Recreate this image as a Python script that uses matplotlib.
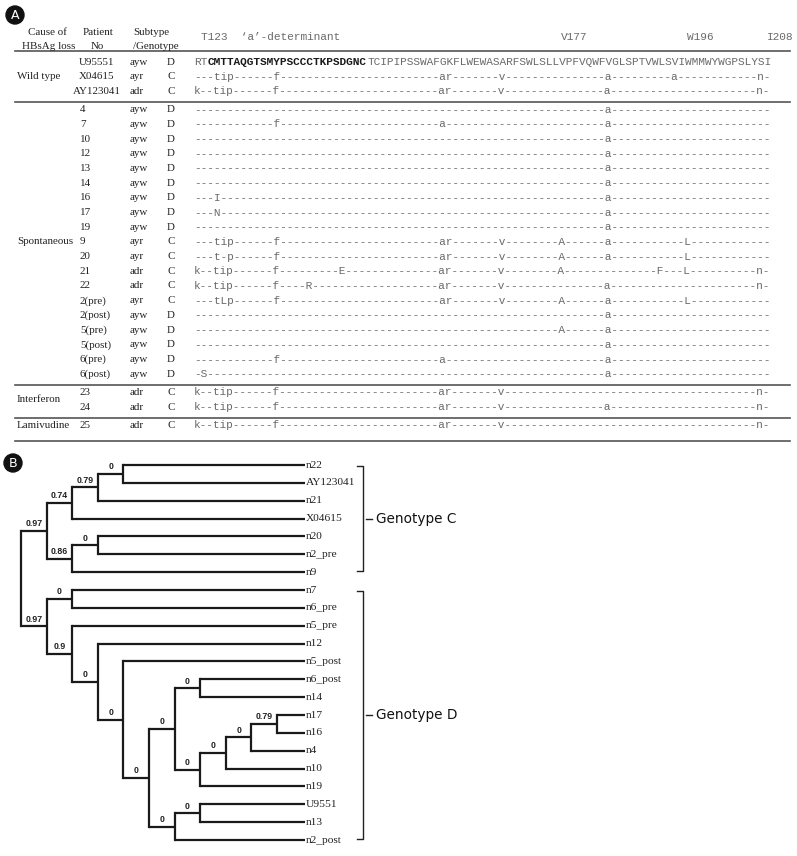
import matplotlib
matplotlib.use("Agg")
import matplotlib.pyplot as plt
from matplotlib.patches import Circle

# ---------------- data: panel A (alignment table) ----------------
ref_start = 122
ref_seq = "RTCMTTAQGTSMYPSCCCTKPSDGNCTCIPIPSSWAFGKFLWEWASARFSWLSLLVPFVQWFVGLSPTVWLSVIWMMWYWGPSLYSI"
bold_span = (124, 147)          # 'a'-determinant residues drawn in bold
landmarks = [(123, "T123  \u2018a\u2019-determinant"), (177, "V177"), (196, "W196"), (208, "I208")]

causes = ["Wild type", "Spontaneous", "Interferon", "Lamivudine"]
row_cause = [0, 0, 0] + [1] * 19 + [2, 2] + [3]
patients = ["U95551", "X04615", "AY123041",
            "4", "7", "10", "12", "13", "14", "16", "17", "19", "9", "20", "21", "22",
            "2(pre)", "2(post)", "5(pre)", "5(post)", "6(pre)", "6(post)",
            "23", "24", "25"]
subtypes = ["ayw", "ayr", "adr",
            "ayw", "ayw", "ayw", "ayw", "ayw", "ayw", "ayw", "ayw", "ayw",
            "ayr", "ayr", "adr", "adr", "ayr", "ayw", "ayw", "ayw", "ayw", "ayw",
            "adr", "adr", "adr"]
genotypes = ["D", "C", "C",
             "D", "D", "D", "D", "D", "D", "D", "D", "D",
             "C", "C", "C", "C", "C", "D", "D", "D", "D", "D",
             "C", "C", "C"]
# substitutions relative to U95551 (residue number + letter); None = reference row
mutations = [
    None,
    "125t 126i 127p 134f 159a 160r 168v 184a 194a 207n",
    "122k 125t 126i 127p 134f 159a 160r 168v 184a 207n",
    "184a",
    "134f 159a 184a",
    "184a",
    "184a",
    "184a",
    "184a",
    "125I 184a",
    "125N 184a",
    "184a",
    "125t 126i 127p 134f 159a 160r 168v 177A 184a 196L",
    "125t 127p 134f 159a 160r 168v 177A 184a 196L",
    "122k 125t 126i 127p 134f 144E 159a 160r 168v 177A 192F 196L 207n",
    "122k 125t 126i 127p 134f 139R 159a 160r 168v 184a 207n",
    "125t 126L 127p 134f 159a 160r 168v 177A 184a 196L",
    "184a",
    "177A 184a",
    "184a",
    "134f 159a 184a",
    "123S 184a",
    "122k 125t 126i 127p 134f 159a 160r 168v 207n",
    "122k 125t 126i 127p 134f 159a 160r 168v 184a 207n",
    "122k 125t 126i 127p 134f 159a 160r 168v 207n",
]

# ---------------- data: panel B (tree) ----------------
clade_C = ("0.97", [
    ("0.74", [
        ("0.79", [("0", ["n22", "AY123041"]), "n21"]),
        "X04615"]),
    ("0.86", [("0", ["n20", "n2_pre"]), "n9"]),
])
clade_D = ("0.97", [
    ("0", ["n7", "n6_pre"]),
    ("0.9", [
        "n5_pre",
        ("0", [
            "n12",
            ("0", [
                "n5_post",
                ("0", [
                    ("0", [
                        ("0", ["n6_post", "n14"]),
                        ("0", [
                            ("0", [
                                ("0", [("0.79", ["n17", "n16"]), "n4"]),
                                "n10"]),
                            "n19"]),
                    ]),
                    ("0", [("0", ["U9551", "n13"]), "n2_post"]),
                ]),
            ]),
        ]),
    ]),
])
tree = (None, [clade_C, clade_D])
genotype_groups = [("Genotype C", "n22", "n9"), ("Genotype D", "n7", "n2_post")]

# ---------------- figure ----------------
W, H = 797, 856
fig = plt.figure(figsize=(W / 100, H / 100), dpi=100)
ax = fig.add_axes([0, 0, 1, 1])
ax.set_xlim(0, W)
ax.set_ylim(H, 0)
ax.axis("off")

SERIF = "Liberation Serif"
MONO = "Liberation Mono"
txt_col = "#222222"
seq_col = "#6a6a6a"
line_col = "#555555"

def circ_label(x, y, s):
    ax.add_patch(Circle((x, y), 9, color="#111111", zorder=3))
    ax.text(x, y + 0.5, s, color="white", ha="center", va="center",
            fontsize=9, family="DejaVu Sans", zorder=4)

# ---- Panel A ----
circ_label(15, 15, "A")
fs_tab = 7.9
mono_fs = 8.0
cw = 0.6 * mono_fs * 100 / 72
x_seq = 194

def xres(res):
    return x_seq + (res - ref_start) * cw

ax.text(47, 32, "Cause of", family=SERIF, fontsize=fs_tab, ha="center", va="center", color=txt_col)
ax.text(49, 46, "HBsAg loss", family=SERIF, fontsize=fs_tab, ha="center", va="center", color=txt_col)
ax.text(98, 32, "Patient", family=SERIF, fontsize=fs_tab, ha="center", va="center", color=txt_col)
ax.text(97, 46, "No", family=SERIF, fontsize=fs_tab, ha="center", va="center", color=txt_col)
ax.text(133, 32, "Subtype", family=SERIF, fontsize=fs_tab, ha="left", va="center", color=txt_col)
ax.text(133, 46, "/Genotype", family=SERIF, fontsize=fs_tab, ha="left", va="center", color=txt_col)
for res, lab in landmarks:
    ax.text(xres(res), 37, lab, family=MONO, fontsize=mono_fs, ha="left", va="center", color=seq_col)

pitch = 14.7
group_gap = 3.5
row_y = [62 + pitch * i + group_gap * g for i, g in enumerate(row_cause)]

L_x0, L_x1 = 15, 790
ax.plot([L_x0, L_x1], [51, 51], color=line_col, lw=1.2)

for i, (pat, st, gt, mut) in enumerate(zip(patients, subtypes, genotypes, mutations)):
    y = row_y[i]
    if row_cause[i] == 0:
        ax.text(97, y, pat, family=SERIF, fontsize=fs_tab, ha="center", va="center", color=txt_col)
    else:
        ax.text(80, y, pat, family=SERIF, fontsize=fs_tab, ha="left", va="center", color=txt_col)
    ax.text(130, y, st, family=SERIF, fontsize=fs_tab, ha="left", va="center", color=txt_col)
    ax.text(171, y, gt, family=SERIF, fontsize=fs_tab, ha="center", va="center", color=txt_col)
    if mut is None:
        b0, b1 = bold_span
        pieces = [(ref_start, ref_seq[:b0 - ref_start], "normal", seq_col),
                  (b0, ref_seq[b0 - ref_start:b1 - ref_start + 1], "bold", "#1a1a1a"),
                  (b1 + 1, ref_seq[b1 - ref_start + 1:], "normal", seq_col)]
        for res, s, wgt, col in pieces:
            ax.text(xres(res), y, s, family=MONO, fontsize=mono_fs, fontweight=wgt,
                    ha="left", va="center", color=col)
    else:
        chars = ["-"] * len(ref_seq)
        for tok in mut.split():
            chars[int(tok[:-1]) - ref_start] = tok[-1]
        ax.text(xres(ref_start), y, "".join(chars), family=MONO, fontsize=mono_fs,
                ha="left", va="center", color=seq_col)

for g, name in enumerate(causes):
    ys = [row_y[i] for i in range(len(row_cause)) if row_cause[i] == g]
    ax.text(17, sum(ys) / len(ys), name, family=SERIF, fontsize=fs_tab, ha="left", va="center", color=txt_col)
    last = ys[-1]
    nxt = [row_y[i] for i in range(len(row_cause)) if row_cause[i] == g + 1]
    ly = (last + nxt[0]) / 2 + 1.5 if nxt else last + 15.5
    ax.plot([L_x0, L_x1], [ly, ly], color=line_col, lw=1.2)

# ---- Panel B ----
circ_label(13, 463, "B")
leaf_y0, leaf_dy = 465, 17.86
x_root, dx, x_tip = 21, 25.6, 305
tree_col = "#1a1a1a"
tlw = 1.6
leaf_pos = {}
counter = [0]

def place(node, depth):
    """returns (x, y) of node and draws subtree"""
    if isinstance(node, str):
        y = leaf_y0 + counter[0] * leaf_dy
        counter[0] += 1
        leaf_pos[node] = y
        ax.text(x_tip + 1, y, node, family=SERIF, fontsize=8.2, ha="left", va="center", color=txt_col)
        return x_tip, y
    support, children = node
    x = x_root + depth * dx
    ys = []
    for ch in children:
        cx, cy = place(ch, depth + 1)
        ys.append(cy)
        ax.plot([x, cx], [cy, cy], color=tree_col, lw=tlw, solid_capstyle="butt")
        if not isinstance(ch, str) and ch[0] is not None:
            ax.text((x + cx) / 2, cy - 2.5, ch[0], family="Liberation Sans", fontweight="bold",
                    fontsize=6.3, ha="center", va="bottom", color="#222222")
    ax.plot([x, x], [min(ys), max(ys)], color=tree_col, lw=tlw, solid_capstyle="projecting")
    return x, (min(ys) + max(ys)) / 2

place(tree, 0)

bx = 363
for name, first, last in genotype_groups:
    y0, y1 = leaf_pos[first] + 1, leaf_pos[last] - 1
    ym = (y0 + y1) / 2
    ax.plot([bx - 6, bx, bx, bx - 6], [y0, y0, y1, y1], color=txt_col, lw=1.0)
    ax.plot([bx + 3, bx + 9], [ym, ym], color=txt_col, lw=1.0)
    ax.text(bx + 13, ym, name, family="DejaVu Sans", fontsize=9.8, ha="left", va="center", color="#111111")

fig.savefig("out.png", dpi=100)
